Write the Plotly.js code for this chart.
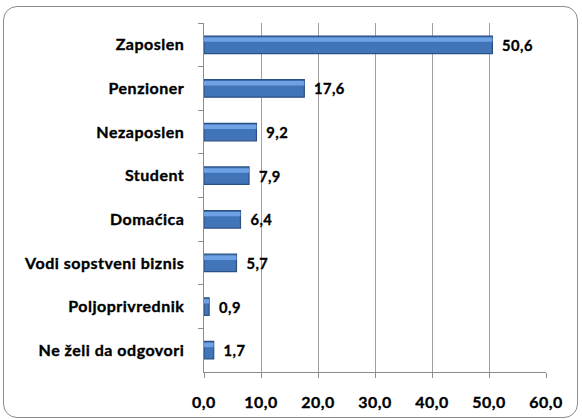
<!DOCTYPE html>
<html><head><meta charset="utf-8">
<script src="https://cdn.plot.ly/plotly-3.0.1.min.js"></script>
<style>
html,body{margin:0;padding:0;background:#fff;}
#frame{position:absolute;left:3px;top:6px;width:573px;height:410px;border:1.5px solid #8c8c8c;border-radius:14px;}
#chart{position:absolute;left:0;top:0;width:582px;height:419px;}
#chart .xtick text, #chart .ytick text, #chart text.bartext{letter-spacing:0.5px; stroke:#000; stroke-width:0.35px;}
</style></head>
<body>
<div id="frame"></div>
<div id="chart"></div>
<script>
const categories = ["Zaposlen","Penzioner","Nezaposlen","Student","Domaćica","Vodi sopstveni biznis","Poljoprivrednik","Ne želi da odgovori"];
const values = [50.6,17.6,9.2,7.9,6.4,5.7,0.9,1.7];
const xTicks = [0,10,20,30,40,50,60];

const fam = "Lato, 'Open Sans', sans-serif";
const tf = {family:fam, size:16, color:'#000', weight:'bold'};

Plotly.newPlot('chart',[{
  type:'bar', orientation:'h',
  x: values, y: categories,
  width:0.4, offset:-0.2,
  marker:{color:'#4274b8', line:{color:'#2b5083', width:1.2}},
  text: values.map(v => '\u00a0\u00a0' + v.toFixed(1).replace('.',',')),
  textposition:'outside',
  textfont:tf,
  cliponaxis:false,
  hoverinfo:'none'
},{
  type:'bar', orientation:'h',
  x: values, y: categories,
  width:0.1, offset:-0.17,
  marker:{color:'#6fa2e4', line:{width:0}},
  hoverinfo:'none'
}],{
  width:582, height:419,
  paper_bgcolor:'rgba(0,0,0,0)', plot_bgcolor:'rgba(0,0,0,0)',
  margin:{l:204, r:36, t:23, b:47},
  separators:',.',
  barmode:'overlay',
  showlegend:false,
  font:{family:fam, size:16, color:'#000'},
  xaxis:{range:[0,60], tickvals:xTicks, tickformat:'.1f', showgrid:true, gridcolor:'#a0a0a0', gridwidth:1,
    showline:true, linecolor:'#8c8c8c', linewidth:1, ticks:'outside', ticklen:5, tickcolor:'#8c8c8c',
    zeroline:false, ticklabelstandoff:11,
    tickfont:tf, fixedrange:true},
  yaxis:{type:'category', autorange:'reversed', showline:true, linecolor:'#8c8c8c', linewidth:1.5,
    ticks:'outside', tickson:'boundaries', ticklen:5, tickcolor:'#8c8c8c', showgrid:false,
    ticklabelstandoff:15,
    tickfont:tf, fixedrange:true}
},{staticPlot:true});
</script>
</body></html>
